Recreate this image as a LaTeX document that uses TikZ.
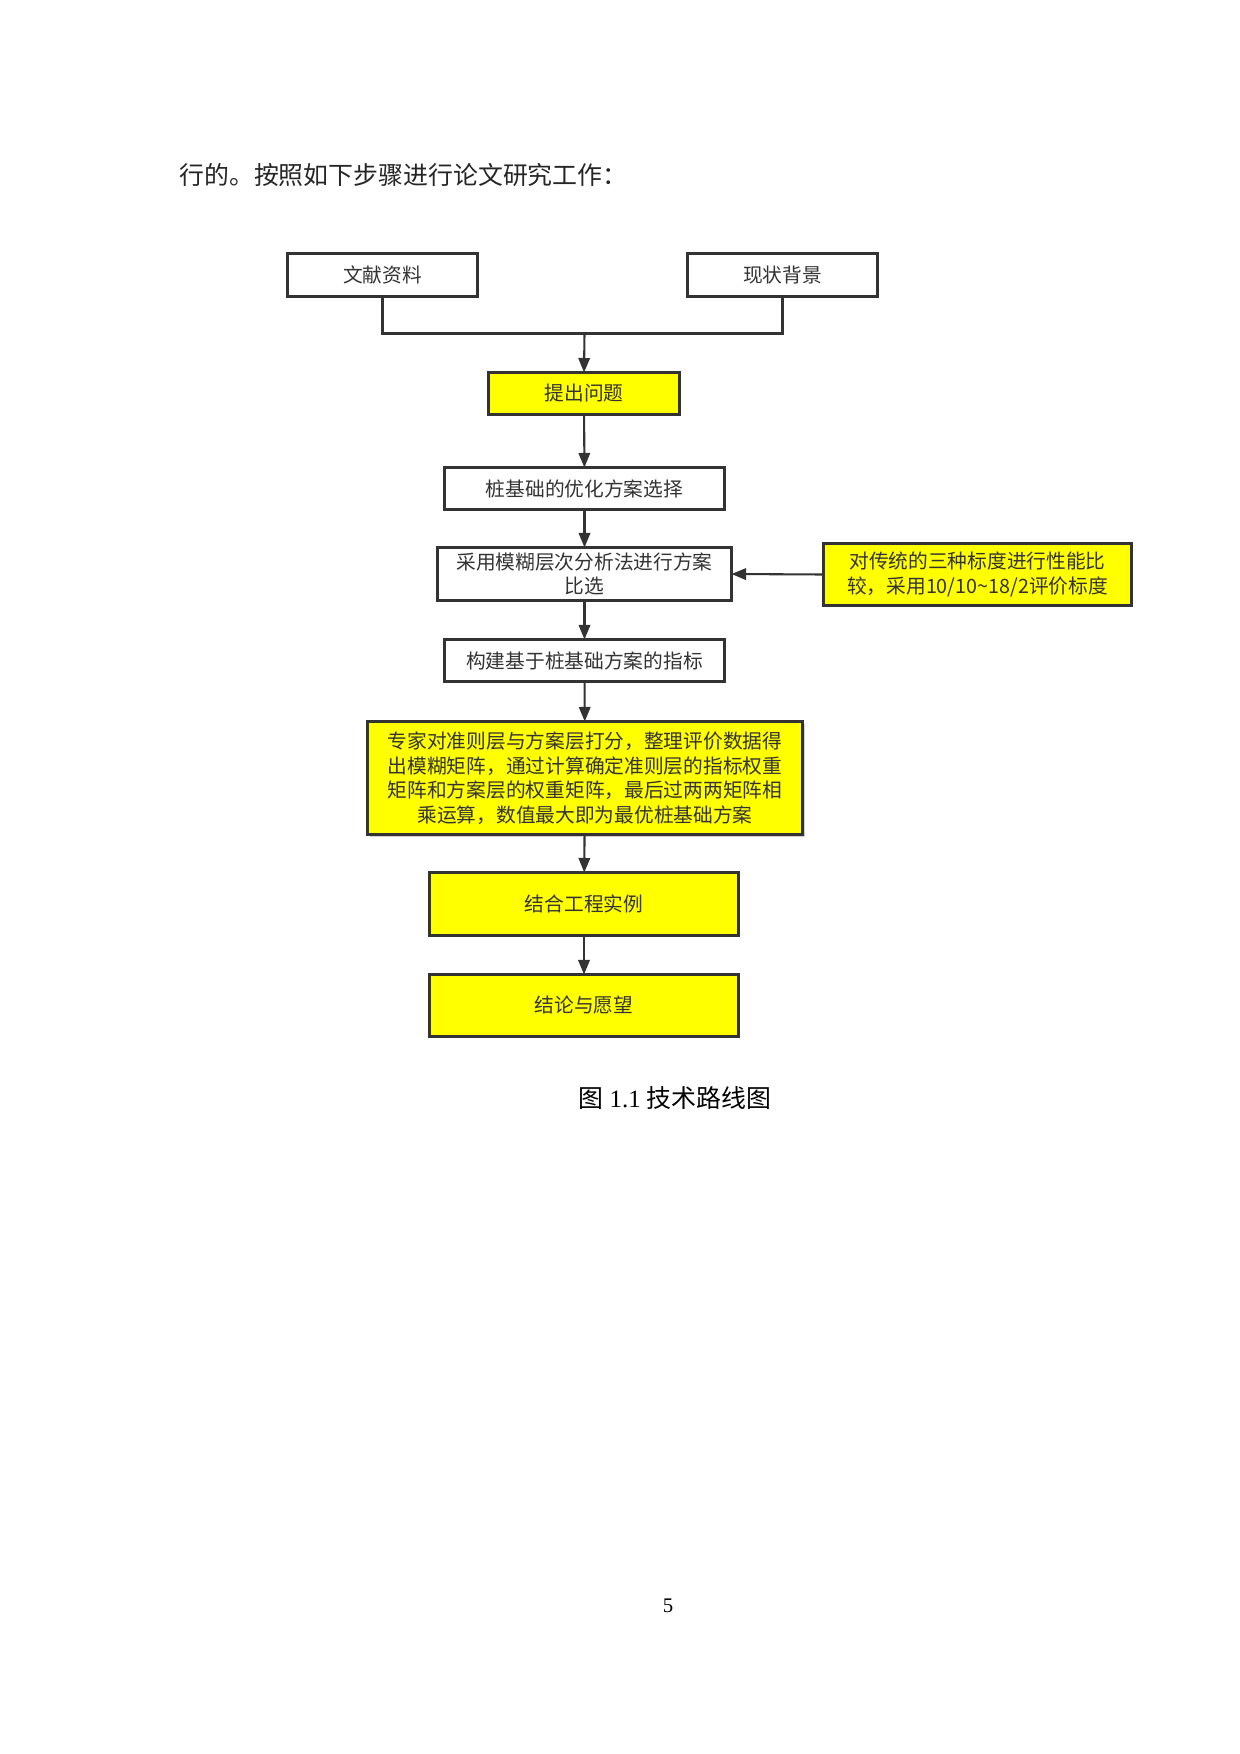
\documentclass[tikz,border=0pt]{standalone}
\usepackage{fontspec}
\setmainfont{Liberation Serif}
\newfontfamily\cjk{Noto Sans CJK SC}
\usetikzlibrary{arrows.meta,shadows}
\definecolor{ink}{HTML}{333333}
\definecolor{hl}{HTML}{FFFF00}
\def\u{0.16935mm}
\tikzset{
  box/.style={draw=ink, line width=1.5pt, fill=white, text=ink, inner sep=0pt, outer sep=0pt,
    align=center, font=\cjk\fontsize{9.5}{11.8}\selectfont},
  ybox/.style={box, fill=hl},
  arr/.style={draw=ink, line width=1pt, -{Triangle[length=7pt,width=5.5pt]}},
  link/.style={draw=ink, line width=1.3pt},
}
\begin{document}
\begin{tikzpicture}[x=\u, y=-\u]
\useasboundingbox[fill=white] (0,0) rectangle (1240,1754);
\node[anchor=base west, font=\cjk\fontsize{12}{14}\selectfont, text=black!85] (intro) at (172,184) {行的。按照如下步骤进行论文研究工作：};
\begin{scope}[shift={(1.5,1.5)}]
\node[box, minimum width={190*\u}, minimum height={43*\u}] (a) at (381,273.5) {文献资料};
\node[box, minimum width={190*\u}, minimum height={43*\u}] (b) at (781,273.5) {现状背景};
\node[ybox, minimum width={191*\u}, minimum height={42*\u}] (c) at (582.5,392) {提出问题};
\node[box, minimum width={280*\u}, minimum height={42*\u}] (d) at (583,487) {桩基础的优化方案选择};
\node[box, minimum width={294*\u}, minimum height={53*\u}] (e) at (583,572.5) {采用模糊层次分析法进行方案\\比选};
\node[ybox, minimum width={308*\u}, minimum height={62*\u}] (f) at (976,573) {对传统的三种标度进行性能比\\较，采用10/10\textasciitilde18/2评价标度};
\node[box, minimum width={280*\u}, minimum height={42*\u}] (g) at (583,659) {构建基于桩基础方案的指标};
\node[ybox, minimum width={435*\u}, minimum height={113*\u},
  drop shadow={shadow xshift=1pt, shadow yshift=-1pt, fill=gray!60, opacity=0.6}] (h) at (583.5,776.5)
  {专家对准则层与方案层打分，整理评价数据得\\出模糊矩阵，通过计算确定准则层的指标权重\\矩阵和方案层的权重矩阵，最后过两两矩阵相\\乘运算，数值最大即为最优桩基础方案};
\node[ybox, minimum width={309*\u}, minimum height={63*\u}] (i) at (582.5,902.5) {结合工程实例};
\node[ybox, minimum width={309*\u}, minimum height={62*\u}] (j) at (582.5,1004) {结论与愿望};

\coordinate (m) at (583,332);
\draw[link] (a.south) |- (m) -| (b.south);
\draw[arr] (m) -- (c.north);
\draw[arr] (c) -- (d);
\draw[arr] (d) -- (e);
\draw[arr] (f.west) -- (e.east);
\draw[arr] (e) -- (g);
\draw[arr] (g) -- (h);
\draw[arr] (h) -- (i);
\draw[arr] (i) -- (j);
\end{scope}
\node[font=\fontsize{12}{14}\selectfont, text=black] (cap) at (675,1098) {{\cjk 图} 1.1 {\cjk 技术路线图}};
\node[font=\fontsize{10}{12}\selectfont, text=black] (pg) at (668,1606) {5};
\end{tikzpicture}
\end{document}
